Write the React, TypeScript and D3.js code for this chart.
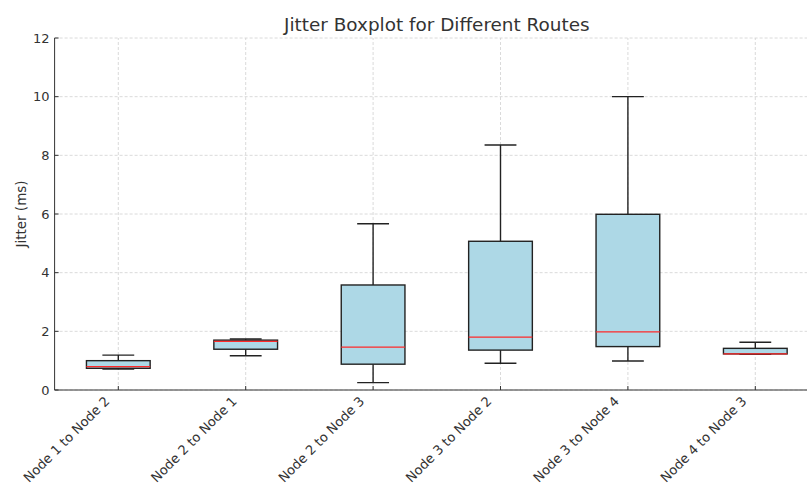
import React, { useEffect } from "react";
import * as d3 from "d3";

// Route jitter distributions (ms): whisker low, Q1, median, Q3, whisker high
const routes = [
  "Node 1 to Node 2",
  "Node 2 to Node 1",
  "Node 2 to Node 3",
  "Node 3 to Node 2",
  "Node 3 to Node 4",
  "Node 4 to Node 3",
];
const whiskerLow = [0.71, 1.17, 0.25, 0.91, 0.99, 1.22];
const q1 = [0.74, 1.39, 0.88, 1.36, 1.48, 1.23];
const median = [0.8, 1.66, 1.46, 1.8, 1.98, 1.23];
const q3 = [1.0, 1.7, 3.58, 5.07, 5.99, 1.42];
const whiskerHigh = [1.19, 1.74, 5.67, 8.35, 10.0, 1.63];
const yTicks = [0, 2, 4, 6, 8, 10, 12];

const W = 807;
const H = 488;
const FONT = "DejaVu Sans, sans-serif";

export default function App() {
  useEffect(() => {
    document.body.style.margin = "0";
  }, []);

  const x = d3.scaleLinear().domain([0.5, 6.5]).range([54.6, 819]);
  const y = d3.scaleLinear().domain([0, 12]).range([390, 38]);
  const boxW = x(1.25) - x(1);
  const capW = x(1.125) - x(1);
  const positions = routes.map((_, i) => i + 1);
  const edge = "#222";
  const lw = 1.4;

  return (
    <svg width={W} height={H} style={{ display: "block", background: "#fff" }}>
      {/* grid */}
      <g stroke="#d0d0d0" strokeWidth={0.8} strokeDasharray="3,2">
        {yTicks.map((t) => (
          <line key={"gy" + t} x1={x(0.5)} x2={x(6.5)} y1={y(t)} y2={y(t)} />
        ))}
        {positions.map((p) => (
          <line key={"gx" + p} x1={x(p)} x2={x(p)} y1={y(0)} y2={y(12)} />
        ))}
      </g>

      {/* boxes */}
      {positions.map((p, i) => {
        const cx = x(p);
        return (
          <g key={routes[i]}>
            <line x1={cx} x2={cx} y1={y(q3[i])} y2={y(whiskerHigh[i])} stroke={edge} strokeWidth={lw} />
            <line x1={cx} x2={cx} y1={y(q1[i])} y2={y(whiskerLow[i])} stroke={edge} strokeWidth={lw} />
            <line x1={cx - capW} x2={cx + capW} y1={y(whiskerHigh[i])} y2={y(whiskerHigh[i])} stroke={edge} strokeWidth={lw} />
            <line x1={cx - capW} x2={cx + capW} y1={y(whiskerLow[i])} y2={y(whiskerLow[i])} stroke={edge} strokeWidth={lw} />
            <rect
              x={cx - boxW}
              width={boxW * 2}
              y={y(q3[i])}
              height={y(q1[i]) - y(q3[i])}
              fill="#add8e6"
              stroke={edge}
              strokeWidth={lw}
            />
            <line x1={cx - boxW} x2={cx + boxW} y1={y(median[i])} y2={y(median[i])} stroke="#ff2a2a" strokeWidth={1.3} />
          </g>
        );
      })}

      {/* axes */}
      <g stroke="#333" strokeWidth={1}>
        <line x1={x(0.5)} x2={x(0.5)} y1={y(0)} y2={y(12)} />
        <line x1={x(0.5)} x2={x(6.5)} y1={y(0)} y2={y(0)} />
        {yTicks.map((t) => (
          <line key={"ty" + t} x1={x(0.5)} x2={x(0.5) + 4} y1={y(t)} y2={y(t)} />
        ))}
        {positions.map((p) => (
          <line key={"tx" + p} x1={x(p)} x2={x(p)} y1={y(0)} y2={y(0) - 4} />
        ))}
      </g>

      {/* tick labels */}
      <g fontFamily={FONT} fill="#333">
        {yTicks.map((t) => (
          <text key={"ly" + t} x={x(0.5) - 5} y={y(t)} dy="0.35em" textAnchor="end" fontSize={13}>
            {t}
          </text>
        ))}
        {positions.map((p, i) => (
          <text
            key={"lx" + p}
            transform={`translate(${x(p) - 8},${y(0) + 12}) rotate(-45)`}
            textAnchor="end"
            fontSize={13.1}
          >
            {routes[i]}
          </text>
        ))}
      </g>

      <text
        transform={`translate(26,${(y(0) + y(12)) / 2}) rotate(-90)`}
        textAnchor="middle"
        fontFamily={FONT}
        fontSize={13.5}
        fill="#333"
      >
        Jitter (ms)
      </text>

      <text x={(x(0.5) + x(6.5)) / 2} y={31} textAnchor="middle" fontFamily={FONT} fontSize={18.4} fill="#333">
        Jitter Boxplot for Different Routes
      </text>
    </svg>
  );
}
